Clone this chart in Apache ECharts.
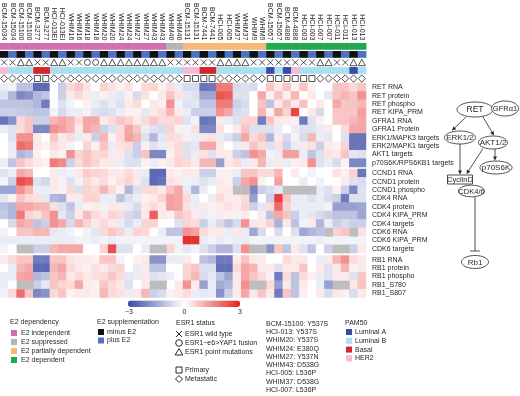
<!DOCTYPE html>
<html>
<head>
<meta charset="utf-8">
<script src="https://cdn.jsdelivr.net/npm/echarts@6/dist/echarts.min.js"></script>
<style>
  html, body { margin: 0; padding: 0; background: #fff; }
  #chart { width: 520px; height: 396px; }
</style>
</head>
<body>
<div id="chart"></div>
<script>
// PDX models, each shown twice (minus E2 / plus E2)
const models = [
  "BCM-15034", "BCM-15100", "BCM-3277", "HCI-013EI", "WHIM16", "WHIM18",
  "WHIM20", "WHIM24", "WHIM27", "WHIM43", "WHIM40", "BCM-15131", "BCM-7441",
  "HCI-005", "WHIM37", "WHIM9", "BCM-15057", "BCM-4888", "HCI-003",
  "HCI-007", "HCI-011", "HCI-013",
];
// per model
const e2Dependency = [
  "ind", "ind", "ind", "ind", "ind", "ind", "ind", "ind", "ind", "ind",
  "sup", "part", "part", "part", "part", "part",
  "dep", "dep", "dep", "dep", "dep", "dep",
];
const esr1Status = [
  "wt", "mut", "wt", "mut", "wt", "fus", "mut", "mut", "mut", "mut", "wt",
  "wt", "wt", "mut", "mut", "wt", "wt", "wt", "wt", "mut", "wt", "mut",
];
const tumorOrigin = [
  "met", "met", "pri", "met", "met", "met", "met", "met", "met", "met", "met",
  "pri", "pri", "met", "met", "met", "pri", "pri", "pri", "met", "met", "met",
];
// per sample
const supplementation = ["minus", "plus"];
const pam50 = [
  "her2", "lumB", "lumB", "lumB", "basal", "basal", "lumB", "lumB", "lumB", "lumB",
  "lumB", "lumB", "lumB", "lumB", "lumB", "lumB", "lumB", "lumB", "lumB", "lumB",
  "lumB", "lumB", "her2", "her2", "basal", "basal", "lumB", "lumB", "lumB", "lumB",
  "lumB", "lumB", "lumA", "lumB", "lumA", "her2", "lumB", "lumB", "lumB", "lumB",
  "lumB", "lumB", "lumA", "lumB",
];

const retRows = [
  "RET RNA", "RET protein", "RET phospho", "RET KIPA_PRM", "GFRA1 RNA",
  "GFRA1 Protein", "ERK1/MAPK3 targets", "ERK2/MAPK1 targets", "AKT1 targets",
  "p70S6K/RPS6KB1 targets",
];
const retValues = [
  [-0.3,-0.2,-1.0,-1.0,-2.5,-2.5,0,-0.8,0.5,0.8,0.4,0,0.6,0.4,0.2, 0.4,0,0.5,0.6,0.2,0.5,-0.3,-0.6,-0.6,-2.3,-2.2,1.8,1.8,-0.6, -0.5,-0.6,0,0.8,0.3,0.8,0.2,0.8,0.2,0,0,0.8,0.8,0.5,0.8],
  [-0.5,-1.2,-2.0,-1.8,-1.2,-1.0,0,-0.8,0.3,0.5,0.3,-0.3,0.2,-0.3,-0.4, 0.2,-0.6,0.4,0,0.3,0.8,0.4,-0.4,-0.5,-1.5,-1.5,2.3,2.2,-0.5, -0.5,0,1.2,0.2,0.8,0.2,1.0,0,0.3,0,-0.4,0.8,1.0,0.8,1.5],
  [-1.0,-1.0,-1.0,-1.0,-1.2,-2.2,0,-0.5,-0.2,0,0.2,-0.3,-0.5,-0.3,-0.5, 0.3,0.5,0,0.3,0.2,1.5,-0.2,-0.5,-0.4,-1.0,-1.0,1.8,1.8,-0.8, -0.6,0,0.8,-1.0,0.3,0.8,0.3,0.8,0,0.3,0,1.2,0.8,0.8,1.0],
  [-0.8,-0.8,-0.9,-0.9,-1.0,-1.0,-0.2,-0.6,-0.3,-0.3,-0.2,-0.5,-0.6,-0.5,-0.3, 0.2,0.2,-0.4,0.3,0.5,1.0,0.3,-0.3,-0.8,-0.8,-0.8,1.5,1.2,-0.6, -0.5,0,1.0,0.2,1.2,0.6,2.5,0,0.3,-0.6,0,0.8,0.8,0.8,1.3],
  [-2.3,-1.8,0.5,0.8,-0.8,-0.8,1.0,1.2,1.0,0.5,1.2,1.2,0.3,0.5,0.8, 0.6,0.3,0.5,0.8,0.5,0.5,0.6,-0.5,-0.2,-2.3,-2.2,0.3,-0.3,-0.5, 0.6,0.6,-2.2,0.8,0.3,0.3,0.2,-2.2,-0.5,0.2,0,0.8,0.8,1.0,1.2],
  [-0.3,-0.5,0.5,0.8,-2.0,-2.0,1.5,1.3,1.0,0.3,1.2,1.0,-0.8,-0.5,0.5, 1.2,0.8,-0.3,-0.5,-0.6,0.6,0.2,-0.2,0.4,-2.0,-2.0,0.4,0,0.3, 0.8,-0.5,-0.5,-0.5,-0.3,0,-0.3,-0.5,-0.5,-0.3,0.3,0,0.5,1.2,1.2],
  [0,-0.5,1.5,1.5,0.3,0,0.8,0.3,0.5,-0.3,0.3,-0.8,1.0,0.2,0.5, 1.3,1.0,-0.5,-1.2,-0.4,0.5,0.4,0.2,-0.3,0.3,0.4,-0.3,-0.5,-0.8, 1.2,0.5,0.8,-1.2,0.3,-0.6,0.2,-0.6,1.0,-0.3,-0.4,0,-0.5,-2.3,-2.3],
  [0,-0.3,2.0,1.8,0.3,0.2,0.5,0.3,-0.2,0,0.6,0.2,0.8,-0.3,0.4, 0.5,-0.8,0.2,-0.5,-0.3,0.3,0.5,-0.5,-0.4,1.2,1.2,0.3,0,-0.3, 0.3,0.8,0.5,-0.5,0.4,-0.8,-0.3,0.3,0.4,-0.8,0.3,0.2,0.6,-2.3,-2.3],
  [0,-0.3,-1.2,-1.0,0.2,0,0.3,0.2,1.5,0.6,0.8,0.5,0.6,0.3,0.3, -0.5,-0.8,0.8,-2.0,-2.0,0.2,0.5,-0.5,-0.3,0.4,-0.5,0.3,0.3,-0.8, -1.0,1.5,1.2,-0.2,-0.3,1.3,1.3,-0.3,-1.0,-0.5,0.4,0.3,0.8,-0.4,-0.5],
  [-0.3,-1.0,0.8,0.5,0.3,0.2,1.8,1.6,-0.8,0.5,0.8,0.6,0.3,0.3,-0.3, -0.5,-0.5,0.2,-0.3,0.2,0.3,0.6,0.5,0.3,1.0,1.0,-1.6,0.3,0.5, -0.3,0.3,1.0,-0.3,0.3,-0.3,0.2,0.3,1.5,-0.5,-0.3,-0.6,0.2,-2.0,-2.0],
];

const cyclinRows = [
  "CCND1 RNA", "CCND1 protein", "CCND1 phospho", "CDK4 RNA", "CDK4 protein",
  "CDK4 KIPA_PRM", "CDK4 targets", "CDK6 RNA", "CDK6 KIPA_PRM", "CDK6 targets",
];
const cyclinValues = [
  [-0.5,-0.3,1.2,1.0,0,0,0.3,-0.3,-0.2,0.3,0.7,0.6,0.5,0.3,0.3, 0.5,0.3,-0.3,-2.5,-2.5,0.3,0.2,0.3,0.3,-0.8,-0.8,0.2,0.2,-0.3, 0.8,0.8,0.5,0.5,1.0,0,0.3,0,-0.2,0,0,0.4,0.2,0.6,-2.3],
  [-0.2,-0.8,2.4,2.2,-0.5,-0.7,0.3,-0.2,-0.5,-0.2,0.5,0.3,0.5,0.2,0.4, 0.6,0.3,-0.5,-2.5,-2.3,0.4,0.3,-0.2,-0.3,-0.5,-0.3,0.3,0.2,-0.8, 1.2,1.5,0.2,0,1.3,0,0,-0.3,0,-0.2,0,0,0.3,-0.5,-0.6],
  [-1.5,-1.5,1.5,1.0,-0.3,-0.3,0.3,0.2,0.5,-0.5,0.6,0.5,1.0,0.5,0.2, -1.2,-0.5,0.5,0.5,0.3,0.8,1.2,-0.3,-1.2,-0.3,0,0.3,0.3,null, null,-2.0,-0.8,-0.6,-0.4,null,null,null,null,-0.3,-0.5,0.2,-0.8,-2.0,-0.5],
  [-0.4,0.2,0.8,0.5,0.4,-0.4,-1.2,-1.3,0.3,0.3,0.6,0.6,-0.3,-0.3,-1.0, -0.5,-0.3,0.2,0.3,0.6,1.3,1.2,0.5,-0.3,0,-0.3,0.5,0.3,0.3, 0.5,-1.6,0,-0.8,2.6,0.8,-0.3,-0.3,-0.5,-0.3,-0.6,-0.8,-2.2,-0.5,-0.5],
  [-1.0,-1.2,1.2,1.2,1.0,1.0,0.4,-0.5,-1.0,-0.3,0.2,0.3,-0.2,0.3,0.3, -0.3,-0.6,0.3,0.5,0.3,1.3,1.2,0.4,-0.3,0.3,0.2,0.3,0.4,0.3, 0.6,-0.8,-0.4,0.5,2.0,0.6,-0.3,-0.3,-0.3,-0.3,-0.2,-1.6,-1.6,-1.6,-1.5],
  [-0.9,-1.2,1.8,0.6,0.4,0.8,1.5,-0.4,-0.8,0.3,0.9,0.5,0.3,0.6,0.5, -0.6,-0.8,0.3,2.2,0.3,0.2,0.8,0.6,0.3,-0.3,-0.2,0.3,0.2,-0.2, 0.3,0,0.3,-1.0,1.2,0.8,-0.8,-0.3,-0.4,-0.6,-0.8,-1.0,-1.0,-1.0,-1.5],
  [0,-0.6,1.2,1.0,-1.0,-0.8,1.5,1.2,-0.6,1.0,0.6,0.3,0.5,0.3,-0.3, -0.6,-0.3,0.6,0.6,0,0,-0.5,0.6,0.5,-0.8,-0.3,-0.6,-1.0,-0.6, 1.5,0.3,0.3,0.6,-1.3,0.3,-1.0,-0.2,0.3,-1.2,-0.3,-0.8,-0.6,-0.8,-0.8],
  [-0.2,0,0.8,0.8,1.0,1.0,-0.4,-0.3,-0.2,0,-0.2,-0.4,0.5,0.8,0.6, -0.3,0.6,0.5,0,-0.3,-1.0,-1.0,1.5,1.3,0.5,0.3,0.3,-0.3,0.3, -0.3,-1.5,-0.6,0,-0.6,0,-0.5,-1.5,-1.2,-1.0,null,0.6,0.8,null,0.4],
  [-0.3,-0.3,-0.3,-0.3,-0.3,-0.3,-0.3,-0.3,-0.3,-0.2,-0.2,-0.3,-0.2,-0.3,-0.2, -0.2,-0.2,-0.2,-0.2,-0.2,-0.2,-0.2,2.8,2.8,-0.3,-0.2,-0.3,-0.2,-0.3, -0.3,-0.2,-0.2,-0.2,-0.2,-0.2,-0.2,-0.2,-0.2,-0.3,-0.2,-0.2,-0.2,-0.2,-0.2],
  [-0.2,0,null,null,-0.8,-0.8,1.0,1.2,1.2,1.2,0,0,0.6,2.4,-0.5, -0.5,0,-0.3,null,null,0.6,-0.2,-0.4,-0.2,-0.5,-0.8,-1.2,-1.2,-0.5, 1.5,null,null,-1.8,0.8,-1.0,0.3,-0.5,-1.0,0,-0.8,null,null,-0.8,0.3],
];

const rbRows = ["RB1 RNA", "RB1 protein", "RB1 phospho", "RB1_S780", "RB1_S807"];
const rbValues = [
  [0.3,0.5,0.8,0.8,-2.2,-2.2,0.8,0.8,0.4,0.3,0.3,0.2,0.8,0.8,-0.2, 0,0.2,0.3,-1.8,-1.8,-0.3,-0.3,0.3,0,-1.0,-1.2,-2.2,-2.2,0.3, 0.8,0.3,0.3,0,0,0.5,0.3,0.3,0,-0.3,0.3,1.0,1.5,0.5,0.3],
  [0,-0.3,1.0,1.2,-2.5,-2.5,1.0,1.2,0.5,0.3,0.2,0.4,0.3,0.5,0.6, 0,-0.3,0.3,-1.0,-1.0,0,0,0.6,0.8,-0.5,-0.5,-2.4,-2.4,0.5, 1.2,1.0,0.3,0.3,-0.5,0.3,0.3,0.8,0,0.3,-0.5,0.3,1.0,0.2,0.3],
  [-0.3,-0.3,1.2,1.3,-1.2,-1.0,0.8,1.0,0.3,0.5,0.3,0.4,0.5,0.8,0.5, -0.4,-0.3,0.3,-0.5,-0.4,-0.3,0,0.6,1.0,-0.6,-0.4,-1.0,-1.5,0.3, 1.2,0.8,0.5,0.2,-2.2,0.5,-1.0,0.5,0.2,-0.3,-0.5,0.3,0.3,-0.5,0.8],
  [-0.3,0,null,null,-0.8,-0.4,0.8,0.6,0.5,1.2,0.3,0.2,0.8,0.5,0.3, -0.5,0,0.3,null,null,0,0.3,1.5,0.3,-1.6,-0.3,-1.4,-1.2,0.3, 1.5,null,null,0.5,-1.6,0.3,-1.0,0.3,0,-0.3,-1.6,null,null,0.3,0.8],
  [-0.2,0.5,2.0,0.8,-2.0,-1.8,0.5,0.8,0.2,0.3,0.3,0.2,1.0,0.5,0.4, -0.3,0.3,1.0,-0.8,-0.6,0.2,0.3,0.5,-0.3,-0.4,-0.3,-1.8,-0.8,0.3, 1.2,0.3,0.8,0.3,-2.2,0.8,-1.0,0.2,0,0.3,-0.6,0.3,0.2,-0.6,0.3],
];

const colorbarTicks = [-3, 0, 3];
const mutationNotes = [
  "BCM-15100: Y537S", "HCI-013: Y537S", "WHIM20: Y537S", "WHIM24: E380Q",
  "WHIM27: Y537N", "WHIM43: D538G", "HCI-005: L536P", "WHIM37: D538G",
  "HCI-007: L536P",
];

// ---- styles ----
const FONT = "Liberation Sans, Arial, Helvetica, sans-serif";
const TEXT = "#231f20";
const depColor = { ind: "#d36fb1", sup: "#b5b5b5", part: "#f8b774", dep: "#22a84e" };
const depLabel = { ind: "E2 independent", sup: "E2 suppressed", part: "E2 partially dependent", dep: "E2 dependent" };
const suppColor = { minus: "#111111", plus: "#4c72c4" };
const pamColor = { lumA: "#3a4aa6", lumB: "#aadff0", basal: "#d0282b", her2: "#f6b9d6" };
const pamLabel = { lumA: "Luminal A", lumB: "Luminal B", basal: "Basal", her2: "HER2" };
const NA_COLOR = "#bdbdbd";
const X_PATH = "path://M0,0L10,10M10,0L0,10";
const esrSymbol = { wt: X_PATH, fus: "circle", mut: "triangle" };
const originSymbol = { pri: "rect", met: "diamond" };

const samples = [];
models.forEach((m) => samples.push(m, m));

// ---- annotation tracks ----
const trackData = [];
const symbolData = [];
samples.forEach((s, i) => {
  const m = Math.floor(i / 2);
  trackData.push({ value: [i, 0], itemStyle: { color: depColor[e2Dependency[m]] } });
  trackData.push({ value: [i, 1], itemStyle: { color: suppColor[supplementation[i % 2]] } });
  trackData.push({ value: [i, 3], itemStyle: { color: pamColor[pam50[i]] } });
  symbolData.push({ value: [i, 2], symbol: esrSymbol[esr1Status[m]], symbolSize: esr1Status[m] === "mut" ? [7, 6.5] : 6 });
  symbolData.push({ value: [i, 4], symbol: originSymbol[tumorOrigin[m]], symbolSize: tumorOrigin[m] === "met" ? [7, 7.5] : 6 });
});

function splitCells(values) {
  const cells = [], missing = [];
  values.forEach((row, r) => row.forEach((v, c) => {
    if (v === null) missing.push([c, r]);
    else cells.push([c, r, v]);
  }));
  return { cells, missing };
}
const groups = [
  { rows: retRows, ...splitCells(retValues), top: 83, height: 84 },
  { rows: cyclinRows, ...splitCells(cyclinValues), top: 169, height: 84 },
  { rows: rbRows, ...splitCells(rbValues), top: 255.5, height: 42 },
];

const GRID_W = 366;
const grids = [{ left: 0, top: 40.5, width: GRID_W, height: 42 }];
groups.forEach((g) => grids.push({ left: 0, top: g.top, width: GRID_W, height: g.height }));

const xAxes = grids.map((g, i) => ({
  type: "category",
  gridIndex: i,
  data: samples,
  position: "top",
  axisLine: { show: false },
  axisTick: { show: false },
  axisLabel: i === 0
    ? { show: true, interval: 0, rotate: 90, fontSize: 7, fontFamily: FONT, color: TEXT, margin: 2 }
    : { show: false },
}));
const yAxes = [{
  type: "category", gridIndex: 0, inverse: true, data: [0, 1, 2, 3, 4], show: false,
}];
groups.forEach((g, i) => yAxes.push({
  type: "category",
  gridIndex: i + 1,
  inverse: true,
  position: "right",
  data: g.rows,
  axisLine: { show: false },
  axisTick: { show: false },
  axisLabel: { interval: 0, fontSize: 7, fontFamily: FONT, color: TEXT, margin: 6 },
}));

function cellRect(shrink, extra) {
  return function (params, api) {
    const p = api.coord([api.value(0), api.value(1)]);
    const s = api.size([1, 1]);
    return {
      type: "rect",
      shape: { x: p[0] - s[0] / 2, y: p[1] - s[1] / 2 + shrink, width: s[0] + 0.4, height: s[1] - 2 * shrink + extra },
      style: { fill: api.visual("color") },
    };
  };
}

const series = [
  {
    type: "custom", name: "tracks", xAxisIndex: 0, yAxisIndex: 0,
    renderItem: cellRect(0.6, 0), data: trackData, silent: true,
  },
  {
    type: "scatter", name: "status", xAxisIndex: 0, yAxisIndex: 0,
    data: symbolData, silent: true,
    itemStyle: { color: "rgba(0,0,0,0)", borderColor: "#111", borderWidth: 0.9 },
  },
];
const heatIdx = [];
groups.forEach((g, i) => {
  heatIdx.push(series.length);
  series.push({
    type: "heatmap", xAxisIndex: i + 1, yAxisIndex: i + 1, data: g.cells, silent: true,
  });
  series.push({
    type: "custom", xAxisIndex: i + 1, yAxisIndex: i + 1, silent: true,
    renderItem: cellRect(0, 0.4), data: g.missing, itemStyle: { color: NA_COLOR },
  });
});

// ---- legends and pathway diagram ----
const graphic = [];
function text(x, y, str, opt) {
  graphic.push({
    type: "text", x, y, silent: true,
    style: Object.assign({ text: str, fill: TEXT, font: "7px " + FONT, align: "left", verticalAlign: "middle" }, opt || {}),
  });
}
function square(x, y, color) {
  graphic.push({ type: "rect", silent: true, shape: { x, y: y - 3, width: 6, height: 6 }, style: { fill: color } });
}
colorbarTicks.forEach((t, i) => text(129 + i * 55.5, 312, t < 0 ? "\u2212" + Math.abs(t) : String(t), { align: "center" }));

text(10, 322, "E2 dependency");
Object.keys(depLabel).forEach((k, i) => {
  square(11, 333 + i * 9, depColor[k]);
  text(21, 333 + i * 9, depLabel[k]);
});
text(97, 322, "E2 supplementation");
["minus", "plus"].forEach((k, i) => {
  square(98, 332 + i * 8.5, suppColor[k]);
  text(107, 332 + i * 8.5, k + " E2");
});

text(176, 323, "ESR1 status");
const stroke = { fill: "none", stroke: "#111", lineWidth: 0.9 };
graphic.push({ type: "line", silent: true, shape: { x1: 176, y1: 331, x2: 182, y2: 337 }, style: stroke });
graphic.push({ type: "line", silent: true, shape: { x1: 182, y1: 331, x2: 176, y2: 337 }, style: stroke });
text(185, 334, "ESR1 wild type");
graphic.push({ type: "circle", silent: true, shape: { cx: 179, cy: 343, r: 3.3 }, style: stroke });
text(185, 343, "ESR1\u2212e6>YAP1 fusion");
graphic.push({ type: "polygon", silent: true, shape: { points: [[179, 348.5], [182.8, 355], [175.2, 355]] }, style: stroke });
text(185, 352, "ESR1 point mutations");
graphic.push({ type: "rect", silent: true, shape: { x: 176, y: 367, width: 6, height: 6 }, style: stroke });
text(185, 370, "Primary");
graphic.push({ type: "polygon", silent: true, shape: { points: [[179, 375.5], [182.5, 379], [179, 382.5], [175.5, 379]] }, style: stroke });
text(185, 379, "Metastatic");

mutationNotes.forEach((s, i) => text(266, 324 + i * 8.25, s));

text(345, 323, "PAM50");
Object.keys(pamLabel).forEach((k, i) => {
  square(346, 332 + i * 8.8, pamColor[k]);
  text(355, 332 + i * 8.8, pamLabel[k]);
});

function ellipse(cx, cy, rx, ry, label, fs) {
  const pts = [];
  for (let k = 0; k < 60; k++) {
    const a = (k / 60) * Math.PI * 2;
    pts.push([cx + rx * Math.cos(a), cy + ry * Math.sin(a)]);
  }
  graphic.push({ type: "polygon", silent: true, shape: { points: pts }, style: { fill: "#fff", stroke: "#222", lineWidth: 0.8 } });
  text(cx, cy + 0.5, label, { align: "center", font: (fs || 8) + "px " + FONT });
}
function arrow(x1, y1, x2, y2) {
  const a = Math.atan2(y2 - y1, x2 - x1);
  const bx = x2 - 4 * Math.cos(a), by = y2 - 4 * Math.sin(a);
  const px = -Math.sin(a) * 2, py = Math.cos(a) * 2;
  graphic.push({ type: "line", silent: true, shape: { x1, y1, x2: bx, y2: by }, style: { stroke: "#222", lineWidth: 0.8 } });
  graphic.push({ type: "polygon", silent: true, shape: { points: [[x2, y2], [bx + px, by + py], [bx - px, by - py]] }, style: { fill: "#222" } });
}

arrow(466, 117, 452, 130.5);
arrow(483, 117, 494, 135.5);
arrow(460, 144, 460, 174.5);
arrow(483, 148.5, 466.5, 174);
arrow(495, 148.5, 495, 160.5);
graphic.push({ type: "line", silent: true, shape: { x1: 475, y1: 197, x2: 475, y2: 251 }, style: { stroke: "#222", lineWidth: 0.8 } });
graphic.push({ type: "line", silent: true, shape: { x1: 470, y1: 251, x2: 480, y2: 251 }, style: { stroke: "#222", lineWidth: 0.8 } });

ellipse(475, 109.5, 18, 7.5, "RET", 8.5);
ellipse(505, 108.5, 13.5, 7.5, "GFR\u03b11", 7.5);
ellipse(460, 137.5, 15.5, 6.5, "ERK1/2");
ellipse(493, 142.5, 14.5, 6.5, "AKT1/2");
ellipse(496, 167.5, 16, 6.5, "p70S6K");
graphic.push({ type: "rect", silent: true, shape: { x: 447.5, y: 175, width: 25, height: 9 }, style: { fill: "#fff", stroke: "#222", lineWidth: 0.8 } });
text(460, 179.5, "CyclinD", { align: "center", font: "7.5px " + FONT });
ellipse(471.5, 191, 13, 5.8, "CDK4/6", 7.5);
ellipse(475, 262, 13.5, 6.5, "Rb1", 8);

const chart = echarts.init(document.getElementById("chart"), null, { renderer: "canvas" });
chart.setOption({
  animation: false,
  backgroundColor: "#fff",
  textStyle: { fontFamily: FONT },
  grid: grids,
  xAxis: xAxes,
  yAxis: yAxes,
  visualMap: {
    type: "continuous",
    min: -3,
    max: 3,
    seriesIndex: heatIdx,
    orient: "horizontal",
    left: 128,
    top: 300.5,
    itemWidth: 6.5,
    itemHeight: 112,
    padding: 0,
    calculable: false,
    hoverLink: false,
    text: null,
    showLabel: false,
    inRange: { color: ["#3b4ba6", "#ffffff", "#e42320"] },
  },
  series,
  graphic,
});
</script>
</body>
</html>
